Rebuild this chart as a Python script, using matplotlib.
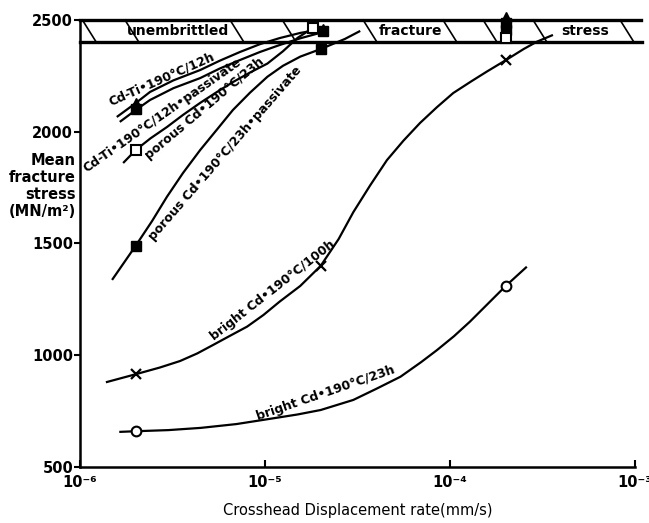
import matplotlib
matplotlib.use("Agg")
import matplotlib.pyplot as plt

plt.rcParams['font.family'] = ['DejaVu Sans']
plt.rcParams['font.weight'] = 'bold'

# curve traces (crosshead rate mm/s, mean fracture stress MN/m^2)
ti12_x = [1.58e-6, 2e-6, 2.39e-6, 3.2e-6, 4.46e-6, 5.7e-6, 7.33e-6, 9.4e-6, 1.2e-5, 1.55e-5, 2.06e-5]
ti12_y = [2066, 2128, 2178, 2230, 2276, 2318, 2357, 2392, 2419, 2442, 2460]
ti12p_x = [1.64e-6, 2e-6, 2.39e-6, 3.2e-6, 4.46e-6, 5.7e-6, 7.33e-6, 9.4e-6, 1.2e-5, 1.55e-5, 1.98e-5]
ti12p_y = [2044, 2097, 2142, 2195, 2240, 2283, 2321, 2357, 2388, 2418, 2442]
por23_x = [1.71e-6, 2e-6, 2.4e-6, 2.95e-6, 3.6e-6, 4.46e-6, 5.5e-6, 6.7e-6, 8.3e-6, 1.03e-5,
           1.25e-5, 1.5e-5, 1.82e-5]
por23_y = [1860, 1918, 1970, 2021, 2075, 2129, 2178, 2222, 2265, 2305, 2360, 2420, 2465]
por23p_x = [1.49e-6, 2e-6, 2.45e-6, 2.95e-6, 3.6e-6, 4.46e-6, 5.5e-6, 6.7e-6, 8.3e-6, 1.03e-5,
            1.25e-5, 1.55e-5, 2e-5, 2.7e-5, 3.27e-5]
por23p_y = [1337, 1490, 1600, 1709, 1815, 1918, 2010, 2097, 2175, 2246, 2295, 2336, 2370, 2415, 2451]
br100_x = [1.38e-6, 2e-6, 2.7e-6, 3.47e-6, 4.3e-6, 5.24e-6, 6.5e-6, 8e-6, 9.8e-6, 1.2e-5, 1.55e-5,
           2e-5, 2.5e-5, 3e-5, 3.7e-5, 4.56e-5, 5.6e-5, 6.88e-5, 8.5e-5, 1.04e-4, 1.3e-4, 1.58e-4,
           2e-4, 2.5e-4, 2.95e-4, 3.6e-4]
br100_y = [879, 915, 945, 974, 1008, 1046, 1088, 1128, 1180, 1240, 1310, 1400, 1520, 1640, 1760,
           1873, 1960, 2039, 2110, 2173, 2225, 2269, 2320, 2370, 2403, 2433]
br23_x = [1.63e-6, 2e-6, 3e-6, 4.5e-6, 7e-6, 1e-5, 1.5e-5, 2e-5, 3e-5, 4e-5, 5.4e-5, 7e-5, 8.5e-5,
          1.05e-4, 1.28e-4, 1.6e-4, 2e-4, 2.6e-4]
br23_y = [657, 660, 665, 675, 692, 712, 735, 755, 800, 850, 904, 970, 1023, 1085, 1150, 1230, 1310, 1396]

# measured points
ti12_px, ti12_py = [2e-6, 2.06e-5, 2e-4], [2130, 2460, 2515]
ti12p_px, ti12p_py = [2e-6, 2.06e-5, 2e-4], [2100, 2450, 2485]
por23_px, por23_py = [2e-6, 1.82e-5, 2e-4], [1918, 2465, 2420]
por23p_px, por23p_py = [2e-6, 2e-5, 2e-4], [1490, 2370, 2455]
br100_px, br100_py = [2e-6, 2e-5, 2e-4], [915, 1400, 2320]
br23_px, br23_py = [2e-6, 2e-4], [660, 1310]

# unembrittled band
band_lo, band_hi = 2400, 2500
hatch_x = [1.03e-6, 1.75e-6, 6.47e-6, 1.24e-5, 3.39e-5, 9.16e-5, 1.51e-4, 2.81e-4, 8.3e-4]
band_words = ["unembrittled", "fracture", "stress"]
band_word_x = [3.39e-6, 6.08e-5, 5.37e-4]

xticks = [1e-6, 1e-5, 1e-4, 1e-3]
xticklabels = ["10⁻⁶", "10⁻⁵", "10⁻⁴", "10⁻³"]
yticks = [500, 1000, 1500, 2000, 2500]

fig = plt.figure(figsize=(6.49, 5.23), dpi=100)
ax = fig.add_axes([0.1233, 0.1071, 0.8552, 0.8547])
ax.set_xscale('log')
ax.set_xlim(1e-6, 1e-3)
ax.set_ylim(500, 2500)

lw = 1.6
for xs, ys in [(ti12_x, ti12_y), (ti12p_x, ti12p_y), (por23_x, por23_y),
               (por23p_x, por23p_y), (br100_x, br100_y), (br23_x, br23_y)]:
    ax.plot(xs, ys, color='black', lw=lw, solid_capstyle='butt', solid_joinstyle='round',
            clip_on=False)

# band outline and hatching
ax.plot([1e-6, 1.08e-3], [band_hi, band_hi], color='black', lw=2.4, clip_on=False)
ax.plot([1e-6, 1.09e-3], [band_lo, band_lo], color='black', lw=2.4, clip_on=False)
for hx in hatch_x:
    ax.plot([hx, hx * 1.19], [band_hi, band_lo], color='black', lw=1.2, clip_on=False)
for word, wx in zip(band_words, band_word_x):
    ax.text(wx, 2450, word, ha='center', va='center', fontsize=10)

ms = 6.5
ax.plot(ti12_px, ti12_py, '^', color='black', ms=7, ls='none', clip_on=False, zorder=5)
ax.plot(ti12p_px, ti12p_py, 's', color='black', ms=ms, ls='none', clip_on=False, zorder=5)
ax.plot(por23p_px, por23p_py, 's', color='black', ms=ms, ls='none', clip_on=False, zorder=5)
ax.plot(por23_px, por23_py, 's', mfc='white', mec='black', mew=1.5, ms=ms, ls='none',
        clip_on=False, zorder=6)
ax.plot(br100_px, br100_py, 'x', color='black', mew=1.6, ms=7, ls='none', clip_on=False, zorder=5)
ax.plot(br23_px, br23_py, 'o', mfc='white', mec='black', mew=1.5, ms=7, ls='none',
        clip_on=False, zorder=5)

# curve labels
lab = dict(ha='center', va='center', rotation_mode='anchor', fontsize=9)
ax.text(2.77e-6, 2236, "Cd-Ti•190°C/12h", rotation=24, **lab)
ax.text(2.77e-6, 2075, "Cd-Ti•190°C/12h•passivate", rotation=35, **lab)
ax.text(4.74e-6, 2106, "porous Cd•190°C/23h", rotation=40, **lab)
ax.text(6.08e-6, 1905, "porous Cd•190°C/23h•passivate", rotation=49, **lab)
ax.text(1.1e-5, 1292, "bright Cd•190°C/100h", rotation=38, **lab)
ax.text(2.14e-5, 831, "bright Cd•190°C/23h", rotation=19, **lab)

ax.spines['top'].set_visible(False)
ax.spines['right'].set_visible(False)
ax.spines['left'].set_linewidth(1.8)
ax.spines['bottom'].set_linewidth(1.8)
ax.set_xticks(xticks)
ax.set_xticklabels(xticklabels, fontsize=10.5)
ax.minorticks_off()
ax.set_yticks(yticks)
ax.set_yticklabels([str(v) for v in yticks], fontsize=10.5)
ax.tick_params(axis='x', direction='in', length=5, width=1.5, pad=6)
ax.tick_params(axis='y', direction='out', length=4, width=1.5, pad=1)

fig.text(0.1171, 0.644, "Mean\nfracture\nstress\n(MN/m²)", ha='right', va='center',
         multialignment='right', fontsize=10.5, linespacing=1.15)
ax.set_xlabel("Crosshead Displacement rate(mm/s)", fontsize=10.5, labelpad=9)

fig.savefig("out.png", dpi=100)
